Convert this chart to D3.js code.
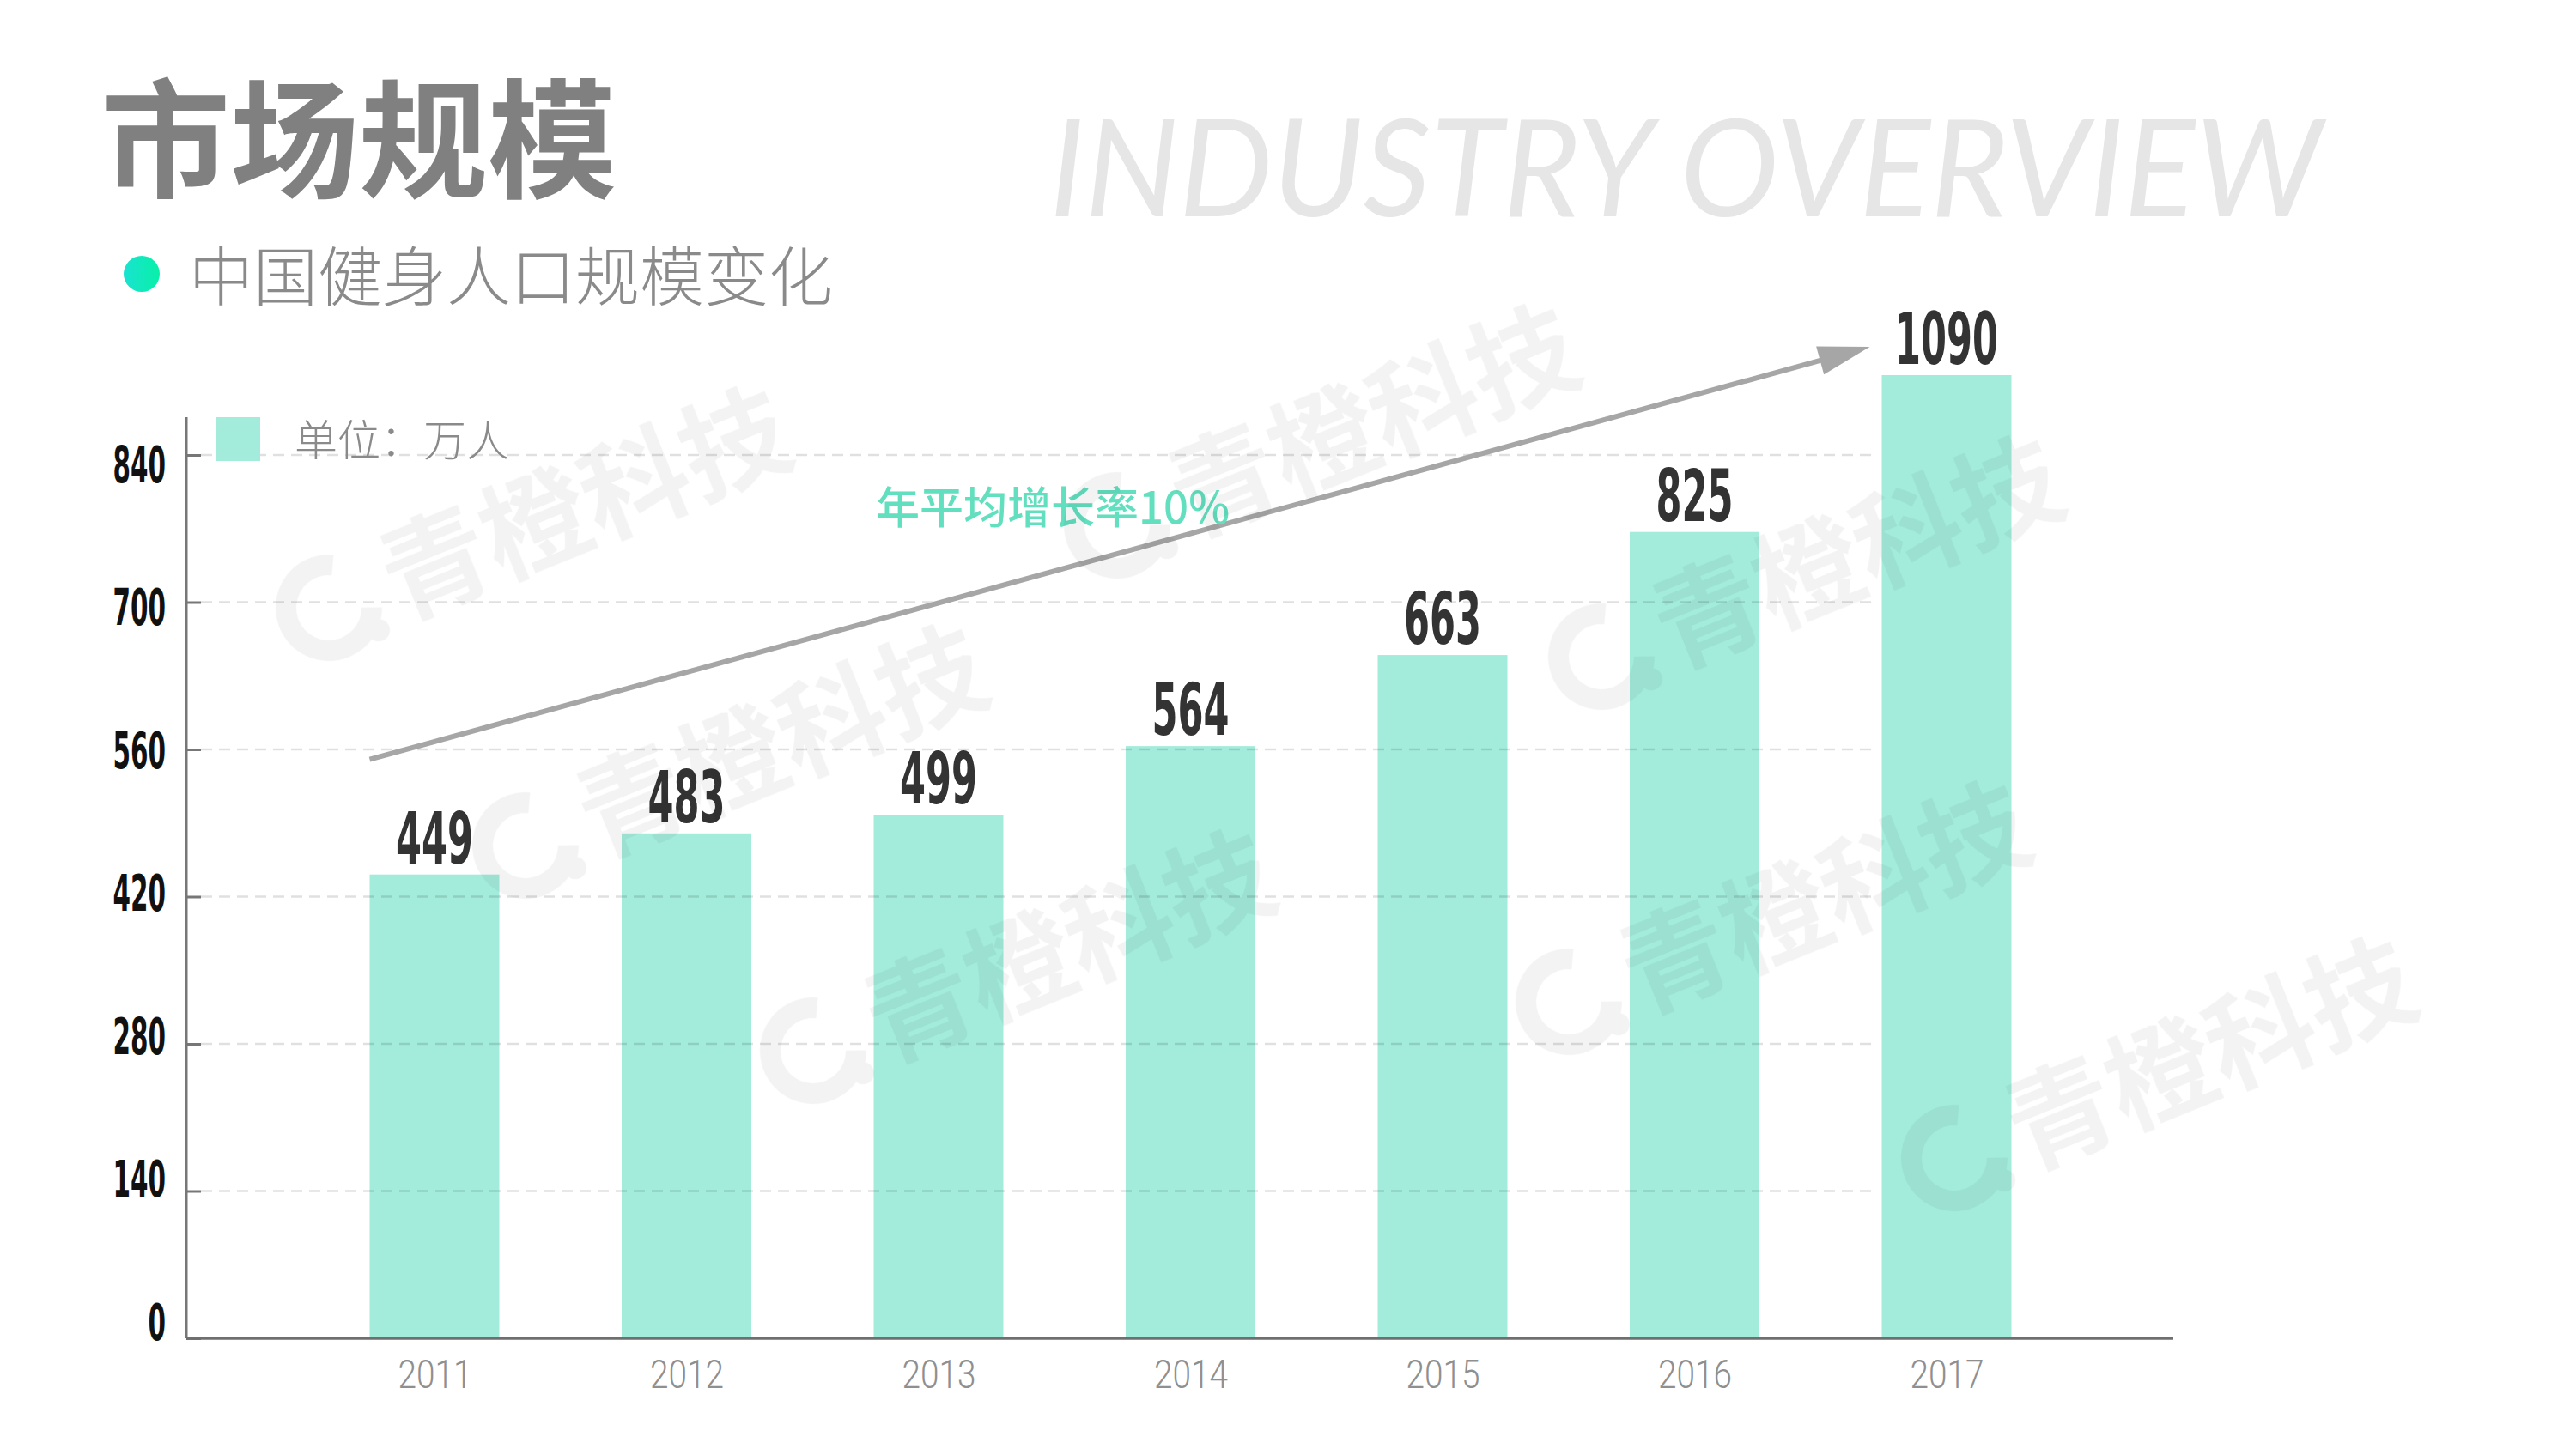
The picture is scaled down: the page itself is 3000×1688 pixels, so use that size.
<!DOCTYPE html>
<html><head><meta charset="utf-8">
<script src="https://cdn.jsdelivr.net/npm/d3@7/dist/d3.min.js"></script>
<style>html,body{margin:0;padding:0;background:#fff;overflow:hidden}svg{display:block}</style>
</head><body>
<svg id="chart" width="3000" height="1688" xmlns="http://www.w3.org/2000/svg"></svg>
<script>
// ---------------- data ----------------
const years = ["2011", "2012", "2013", "2014", "2015", "2016", "2017"];
const population = [449, 483, 499, 564, 663, 825, 1090];   // 万人
const yTickValues = [0, 140, 280, 420, 560, 700, 840];
const titleLabel = "市场规模";
const subtitleLabel = "中国健身人口规模变化";
const bannerLabel = "INDUSTRY OVERVIEW";
const unitLabel = "单位：万人";
const growthLabel = "年平均增长率10%";
const watermarkLabel = "青橙科技";

// ---------------- layout ----------------
const baseY = 1559, axisX = 217, axisTop = 486, axisRight = 2531, gridRight = 2181;
const barW = 151;
const barColor = "#a3ecdb";
const CJK = "'Noto Sans CJK SC','Noto Sans',sans-serif";
const NARROW = "'Liberation Sans Narrow','DejaVu Sans Condensed','Liberation Sans',sans-serif";

const svg = d3.select("#chart");

const x = d3.scalePoint().domain(years).range([506, 2267]);
const yAxisScale = d3.scaleLinear().domain([0, 840]).range([baseY, 530]);   // ticks + gridlines
const yLabelScale = d3.scaleLinear().domain([0, 840]).range([1540, 541]);   // tick label centres
const yBar = d3.scaleLog().domain([197, 1090]).range([baseY, 437]);

// ---------------- header ----------------
svg.append("text")
  .attr("x", 1222).attr("y", 252)
  .attr("font-family", "Lato,'Open Sans',sans-serif")
  .attr("font-style", "italic").attr("font-weight", 400)
  .attr("font-size", 158).attr("fill", "#e6e6e6")
  .attr("textLength", 1482).attr("lengthAdjust", "spacingAndGlyphs")
  .text(bannerLabel);

svg.append("text")
  .attr("x", 118).attr("y", 219)
  .attr("font-family", CJK).attr("font-weight", 700)
  .attr("font-size", 150).attr("fill", "#808080")
  .text(titleLabel);

const dotGrad = svg.append("defs").append("linearGradient").attr("id", "dotg")
  .attr("x1", "0%").attr("x2", "100%");
dotGrad.append("stop").attr("offset", "0%").attr("stop-color", "#19e3d0");
dotGrad.append("stop").attr("offset", "100%").attr("stop-color", "#08f0a8");
svg.append("circle").attr("cx", 165).attr("cy", 319).attr("r", 21).attr("fill", "url(#dotg)");

svg.append("text")
  .attr("x", 220).attr("y", 350)
  .attr("font-family", CJK).attr("font-weight", 300)
  .attr("font-size", 75).attr("fill", "#8a8a8a")
  .text(subtitleLabel);

// ---------------- bars ----------------
const data = years.map((y, i) => ({ year: y, value: population[i] }));

svg.append("g").selectAll("rect").data(data).join("rect")
  .attr("x", d => x(d.year) - barW / 2)
  .attr("y", d => yBar(d.value))
  .attr("width", barW)
  .attr("height", d => baseY - yBar(d.value))
  .attr("fill", barColor);

// ---------------- gridlines ----------------
svg.append("g").selectAll("line").data(yTickValues.filter(v => v > 0)).join("line")
  .attr("x1", axisX + 17).attr("x2", gridRight)
  .attr("y1", d => yAxisScale(d)).attr("y2", d => yAxisScale(d))
  .attr("stroke", "rgba(0,0,0,0.12)").attr("stroke-width", 2.5)
  .attr("stroke-dasharray", "13,8");

// ---------------- y axis ----------------
const yAxisG = svg.append("g").attr("transform", `translate(${axisX},0)`)
  .call(d3.axisLeft(yAxisScale).tickValues(yTickValues).tickSize(-17).tickFormat(""));
yAxisG.select(".domain").remove();
yAxisG.selectAll(".tick line").attr("stroke", "#777").attr("stroke-width", 3);

svg.append("g").selectAll("text").data(yTickValues).join("text")
  .attr("x", 193)
  .attr("y", d => yLabelScale(d))
  .attr("dy", "0.36em")
  .attr("text-anchor", "end")
  .attr("font-family", NARROW).attr("font-weight", 700)
  .attr("font-size", 58).attr("fill", "#111")
  .attr("textLength", d => String(d).length * 20.5)
  .attr("lengthAdjust", "spacingAndGlyphs")
  .text(d => d);

svg.append("line").attr("x1", axisX).attr("x2", axisX).attr("y1", axisTop).attr("y2", baseY)
  .attr("stroke", "#777").attr("stroke-width", 3);

// ---------------- x axis ----------------
const xAxisG = svg.append("g").attr("transform", `translate(0,${baseY})`)
  .call(d3.axisBottom(x).tickSize(0).tickPadding(25));
xAxisG.select(".domain").remove();
xAxisG.selectAll(".tick text")
  .attr("font-family", "Roboto,'Liberation Sans',sans-serif").attr("font-weight", 300)
  .attr("font-size", 46).attr("fill", "#8f8f8f")
  .attr("textLength", 86).attr("lengthAdjust", "spacingAndGlyphs");

svg.append("line").attr("x1", axisX).attr("x2", axisRight).attr("y1", baseY).attr("y2", baseY)
  .attr("stroke", "#6f6f6f").attr("stroke-width", 3.5);

// ---------------- value labels ----------------
svg.append("g").selectAll("text").data(data).join("text")
  .attr("x", d => x(d.year))
  .attr("y", d => yBar(d.value) - 13)
  .attr("text-anchor", "middle")
  .attr("font-family", NARROW).attr("font-weight", 700)
  .attr("font-size", 84).attr("fill", "#333")
  .attr("textLength", d => String(d.value).length * 30)
  .attr("lengthAdjust", "spacingAndGlyphs")
  .text(d => d.value);

// ---------------- legend ----------------
svg.append("rect").attr("x", 251).attr("y", 486).attr("width", 52).attr("height", 51).attr("fill", barColor);
svg.append("text").attr("x", 343).attr("y", 531)
  .attr("font-family", CJK).attr("font-weight", 300)
  .attr("font-size", 50).attr("fill", "#8a8a8a")
  .text(unitLabel);

// ---------------- trend arrow ----------------
const first = data[0], last = data[data.length - 1];
const ax0 = x(first.year) - barW / 2, ay0 = yBar(first.value) - 134;
const ax1 = x(last.year) - barW / 2 - 14, ay1 = yBar(last.value) - 33;
const ang = Math.atan2(ay1 - ay0, ax1 - ax0);
const headL = 60, headW = 17;
const bx = ax1 - headL * Math.cos(ang), by = ay1 - headL * Math.sin(ang);
svg.append("line").attr("x1", ax0).attr("y1", ay0).attr("x2", bx + 4 * Math.cos(ang)).attr("y2", by + 4 * Math.sin(ang))
  .attr("stroke", "#a6a6a6").attr("stroke-width", 6);
svg.append("path")
  .attr("d", d3.line()([
    [ax1, ay1],
    [bx - headW * Math.sin(ang), by + headW * Math.cos(ang)],
    [bx + headW * Math.sin(ang), by - headW * Math.cos(ang)]
  ]) + "Z")
  .attr("fill", "#a6a6a6");

svg.append("text").attr("x", 1020).attr("y", 610)
  .attr("font-family", CJK).attr("font-weight", 500)
  .attr("font-size", 51).attr("fill", "#62dfbe")
  .text(growthLabel);

// ---------------- watermarks ----------------
const wmAnchors = [[383, 708], [1301, 612], [1865, 765], [612, 985], [947, 1224], [1827, 1167], [2276, 1349]];
const wm = svg.append("g").attr("opacity", 0.05).attr("pointer-events", "none");
const ring = d3.arc().innerRadius(38).outerRadius(62).startAngle(Math.PI * 0.62).endAngle(Math.PI * 2.15);
wmAnchors.forEach(([cx, cy]) => {
  const g = wm.append("g").attr("transform", `translate(${cx},${cy}) rotate(-22)`);
  g.append("path").attr("d", ring()).attr("fill", "#000");
  g.append("circle").attr("cx", 44).attr("cy", 46).attr("r", 13).attr("fill", "#000");
  g.append("text").attr("x", 72).attr("y", 0).attr("dy", "0.36em")
    .attr("font-family", CJK).attr("font-weight", 700)
    .attr("font-size", 125).attr("fill", "#000")
    .text(watermarkLabel);
});
</script>
</body></html>
